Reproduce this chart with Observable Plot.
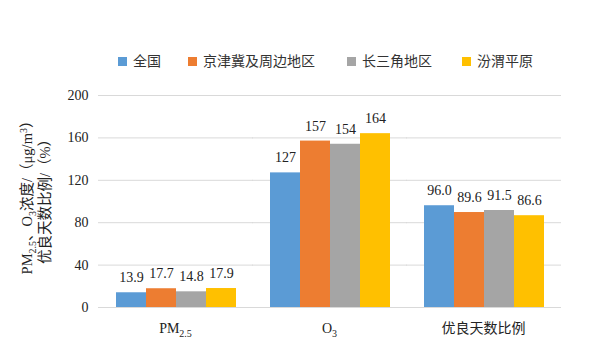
<!DOCTYPE html>
<html><head><meta charset="utf-8">
<script src="https://cdn.jsdelivr.net/npm/d3@7"></script>
<script src="https://cdn.jsdelivr.net/npm/@observablehq/plot@0.6"></script>
<style>
body{margin:0;background:#fff}
#chart svg, #chart svg text, #chart svg g {font-family: "Liberation Serif", "Noto Sans CJK SC", serif !important;}
</style>
</head><body><div id="chart"></div>
<script>
const categories = ["PM2.5", "O3", "优良天数比例"];
const series = ["全国", "京津冀及周边地区", "长三角地区", "汾渭平原"];
const colors = ["#5B9BD5", "#ED7D31", "#A5A5A5", "#FFC000"];
const national = [13.9, 127, 96.0];
const jingjinji = [17.7, 157, 89.6];
const changsanjiao = [14.8, 154, 91.5];
const fenwei = [17.9, 164, 86.6];
const yTicks = [0, 40, 80, 120, 160, 200];

const seriesValues = [national, jingjinji, changsanjiao, fenwei];
const data = [];
categories.forEach((c, i) => series.forEach((s, j) => data.push({cat: c, series: s, value: seriesValues[j][i]})));
const fmt = d => d.cat === "O3" ? d3.format("d")(d.value) : d3.format(".1f")(d.value);

const FONT = "Liberation Serif, Noto Sans CJK SC, serif";

const plot = Plot.plot({
  width: 608, height: 354,
  marginTop: 95, marginBottom: 47, marginLeft: 98, marginRight: 46,
  style: {fontSize: "14px", color: "#222", background: "#fff"},
  fx: {domain: categories, paddingInner: 0.2, paddingOuter: 0.1, axis: null, label: null},
  x: {domain: series, padding: 0, axis: null},
  y: {domain: [0, 200], axis: null},
  color: {domain: series, range: colors},
  marks: [
    Plot.ruleY(yTicks.slice(1), {stroke: "#d9d9d9", strokeWidth: 1, insetLeft: -16, insetRight: -16}),
    Plot.barY(data, {fx: "cat", x: "series", y: "value", fill: "series"}),
    Plot.text(data, {fx: "cat", x: "series", y: "value", text: fmt, dy: -15, fontSize: 14, fill: "#222", fontFamily: FONT}),
    Plot.ruleY([0], {stroke: "#d9d9d9", strokeWidth: 1, insetLeft: -16, insetRight: -16}),
    Plot.axisY({ticks: yTicks, tickSize: 0, tickPadding: 26, fontSize: 14, label: null, fontFamily: FONT, fill: "#222"})
  ]
});
document.getElementById("chart").appendChild(plot);

const svg = d3.select(plot);
svg.attr("font-family", FONT);
const fx = plot.scale("fx");
// x category labels with subscripts
const xLabels = [
  [["PM", false], ["2.5", true]],
  [["O", false], ["3", true]],
  [["优良天数比例", false]]
];
categories.forEach((c, i) => {
  const cx = fx.apply(c) + fx.bandwidth / 2;
  const t = svg.append("text").attr("x", cx).attr("y", 333).attr("text-anchor", "middle")
    .attr("font-size", 14).attr("fill", "#222");
  xLabels[i].forEach(([s, sub]) => {
    const ts = t.append("tspan").text(s);
    if (sub) ts.attr("font-size", 10).attr("dy", 4);
  });
});

// y axis title, two rotated lines
const yt1 = svg.append("text").attr("transform", "translate(32,194) rotate(-90)").attr("text-anchor", "middle")
  .attr("font-size", 14.5).attr("fill", "#222");
yt1.append("tspan").text("PM");
yt1.append("tspan").text("2.5").attr("font-size", 10).attr("dy", 4);
yt1.append("tspan").text("、O").attr("dy", -4);
yt1.append("tspan").text("3").attr("font-size", 10).attr("dy", 4);
yt1.append("tspan").text("浓度/（μg/m").attr("dy", -4);
yt1.append("tspan").text("3").attr("font-size", 10).attr("dy", -5);
yt1.append("tspan").text("）").attr("dy", 5);
svg.append("text").attr("transform", "translate(50,198) rotate(-90)").attr("text-anchor", "middle")
  .attr("font-size", 14.5).attr("fill", "#222").text("优良天数比例/（%）");

// legend
const legX = [118, 188, 347, 462];
series.forEach((s, i) => {
  svg.append("rect").attr("x", legX[i]).attr("y", 57).attr("width", 9).attr("height", 9).attr("fill", colors[i]);
  svg.append("text").attr("x", legX[i] + 15).attr("y", 66).attr("text-anchor", "start")
    .attr("font-size", 14).attr("fill", "#333").text(s);
});
</script>
</body></html>
